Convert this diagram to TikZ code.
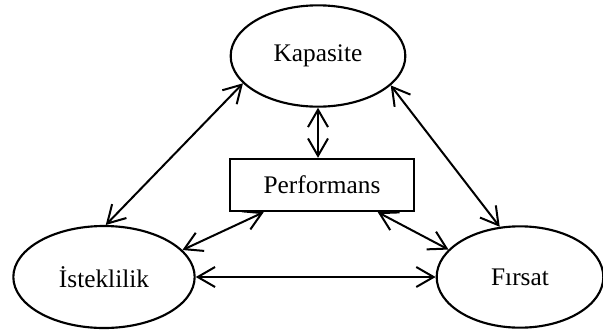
\documentclass[tikz,border=0pt]{standalone}
\usepackage{fontspec}
\setmainfont{Liberation Serif}
\usetikzlibrary{shapes.geometric,arrows.meta}

\begin{document}
\begin{tikzpicture}[x=0.75pt,y=-0.75pt,
  oval/.style={ellipse,draw,black,line width=1.6pt,inner sep=0pt},
  perfbox/.style={rectangle,draw,black,line width=1.8pt,inner sep=0pt,
    minimum width=138pt,minimum height=39pt},
  link/.style={{Straight Barb[length=13pt,width=15pt]}-{Straight Barb[length=13pt,width=15pt]},
    line width=1.5pt}]
\tikzstyle{every node}+=[font=\fontsize{19}{22}\selectfont]
\useasboundingbox (0,0) rectangle (603,329);
\node [oval,minimum width=131pt,minimum height=76pt] (kap) at (318,56) {Kapasite};
\node [perfbox] (perf) at (322,185) {Performans};
\node [oval,minimum width=136pt,minimum height=76.5pt] (ist) at (104,277) {\.Isteklilik};
\node [oval,minimum width=125pt,minimum height=76pt] (fir) at (520,277) {Fırsat\hspace{19pt}};
\draw [link] (kap.south) -- (kap.south |- perf.north);
\draw [link] (kap.200) -- (ist.88);
\draw [link] (kap.338) -- (fir.112);
\draw [link] (perf.205) -- (ist.19);
\draw [link] (perf.334) -- (fir.159);
\draw [link] (ist.east) -- (fir.west);
\end{tikzpicture}
\end{document}
